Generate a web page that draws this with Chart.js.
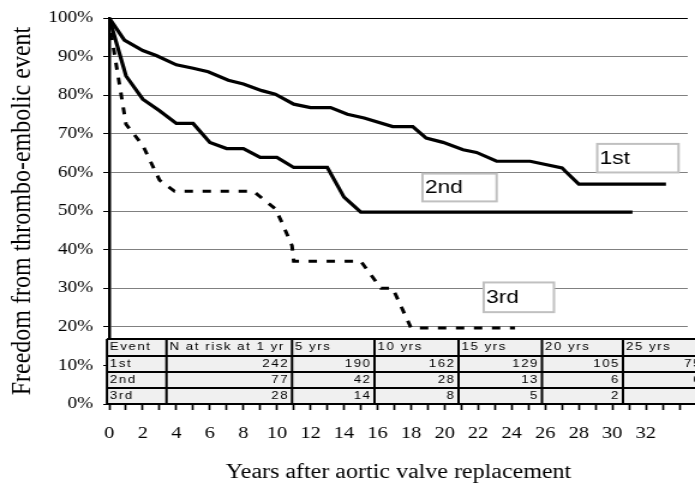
<!DOCTYPE html>
<html>
<head>
<meta charset="utf-8">
<script src="https://cdn.jsdelivr.net/npm/chart.js@4.4.1/dist/chart.umd.min.js"></script>
<style>
  html, body { margin: 0; padding: 0; background: #fff; }
  canvas { display: block; }
</style>
</head>
<body>
<!-- the original picture is stretched 1.2x horizontally: draw narrow, show wide -->
<canvas id="chart" width="579" height="487" style="width:695px;height:487px"></canvas>
<script>
// ── Data (years after replacement / freedom %) ───────────────────────────────
const firstYears    = [0, 0.9, 2, 2.8, 4, 5, 5.9, 7.1, 8, 9.1, 9.9, 11, 12, 13.2, 14.2, 15.2, 16.9, 18.1, 18.9, 19.9, 21.1, 21.9, 23.1, 25.1, 27, 27.2, 28, 33.2];
const firstFreedom  = [100, 94.3, 91.6, 90.3, 87.9, 87, 86.1, 83.9, 82.9, 81.2, 80.3, 77.7, 76.8, 76.8, 75.1, 74.1, 71.9, 71.9, 68.9, 67.8, 65.9, 65.2, 62.9, 62.9, 61.2, 60.3, 57, 57];

const secondYears   = [0, 1, 2, 3, 4, 5, 6, 7, 8, 9, 10, 11, 13, 14, 15, 31.2];
const secondFreedom = [100, 85, 79, 76, 72.7, 72.7, 67.8, 66.2, 66.2, 63.9, 63.9, 61.3, 61.3, 53.6, 49.7, 49.7];

const thirdYears    = [0, 0.15, 1, 2, 3, 3.9, 8.6, 9.9, 10.3, 10.9, 11, 15, 16.2, 16.9, 18, 24.2];
const thirdFreedom  = [100, 95, 72.5, 67, 58, 55.1, 55.1, 50.6, 47, 41, 37, 37, 30, 30, 19.7, 19.7];

const curveLabels   = ["1st", "2nd", "3rd"];

// ── Risk table ────────────────────────────────────────────────────────────────
const riskHeaders = ["Event", "N at risk at 1 yr", "5 yrs", "10 yrs", "15 yrs", "20 yrs", "25 yrs"];
const eventNames  = ["1st", "2nd", "3rd"];
const riskFirst   = [242, 190, 162, 129, 105, 75];
const riskSecond  = [77, 42, 28, 13, 6, 6];
const riskThird   = [28, 14, 8, 5, 2, null];

const toPoints = (xs, ys) => xs.map((x, i) => ({ x, y: ys[i] }));

// ── Layout of the overlay (canvas px / data units) ───────────────────────────
const TABLE_COLS = [89.1, 138.7, 243.3, 312.0, 382.0, 451.5, 519.0, 587.3];
const TABLE_ROWS = [339, 356, 372, 388, 404];
const LABEL_BOXES = [
    { x0: 29.1,  x1: 33.95, y0: 67.4, y1: 60.0 },
    { x0: 18.68, x1: 23.1,  y0: 59.7, y1: 52.5 },
    { x0: 22.33, x1: 26.52, y0: 31.5, y1: 23.8 },
];

const SANS  = "'Liberation Sans', Arial, sans-serif";
const SERIF = "'Liberation Serif', 'Times New Roman', serif";

Chart.defaults.font.family = SERIF;
Chart.defaults.color = "#000";

function seg(ctx, x0, y0, x1, y1) {
    ctx.beginPath();
    ctx.moveTo(x0, y0);
    ctx.lineTo(x1, y1);
    ctx.stroke();
}

// ── Overlay : risk table + curve labels ───────────────────────────────────────
const overlay = {
    id: 'overlay',
    afterDatasetsDraw(chart) {
        const { ctx, scales: { x, y } } = chart;
        const L = TABLE_COLS[0], R = TABLE_COLS[TABLE_COLS.length - 1];
        const T = TABLE_ROWS[0], B = TABLE_ROWS[TABLE_ROWS.length - 1];

        ctx.save();
        ctx.fillStyle = '#f0f0f0';
        ctx.fillRect(L, T, R - L, B - T);
        ctx.strokeStyle = '#000';
        ctx.lineWidth = 2;
        TABLE_ROWS.forEach(r => seg(ctx, L, r, R, r));
        TABLE_COLS.forEach(c => seg(ctx, c, T, c, B));

        ctx.font = `11px ${SANS}`;
        ctx.letterSpacing = '1.3px';
        ctx.fillStyle = '#000';
        ctx.textBaseline = 'middle';

        const mid = r => (TABLE_ROWS[r] + TABLE_ROWS[r + 1]) / 2 - 0.5;
        ctx.textAlign = 'left';
        riskHeaders.forEach((h, i) => ctx.fillText(h, TABLE_COLS[i] + 2.5, mid(0)));

        [riskFirst, riskSecond, riskThird].forEach((row, r) => {
            ctx.textAlign = 'left';
            ctx.fillText(eventNames[r], TABLE_COLS[0] + 2.5, mid(r + 1));
            ctx.textAlign = 'right';
            row.forEach((v, i) => {
                if (v !== null) ctx.fillText(String(v), TABLE_COLS[i + 2] - 2.5, mid(r + 1));
            });
        });

        // labels "1st" / "2nd" / "3rd"
        ctx.letterSpacing = '0px';
        ctx.font = `19px ${SANS}`;
        ctx.textAlign = 'left';
        LABEL_BOXES.forEach((b, i) => {
            const px0 = x.getPixelForValue(b.x0), px1 = x.getPixelForValue(b.x1);
            const py0 = y.getPixelForValue(b.y0), py1 = y.getPixelForValue(b.y1);
            ctx.fillStyle = '#fff';
            ctx.fillRect(px0, py0, px1 - px0, py1 - py0);
            ctx.strokeStyle = '#c0c0c0';
            ctx.lineWidth = 2;
            ctx.strokeRect(px0, py0, px1 - px0, py1 - py0);
            ctx.fillStyle = '#000';
            ctx.fillText(curveLabels[i], px0 + 2, (py0 + py1) / 2 + 0.5);
        });
        ctx.restore();
    },
};

// ── Chart ─────────────────────────────────────────────────────────────────────
const base = { borderColor: '#000', pointRadius: 0, tension: 0, fill: false };

new Chart(document.getElementById('chart'), {
    type: 'line',
    data: {
        datasets: [
            { ...base, label: curveLabels[0], data: toPoints(firstYears, firstFreedom),   borderWidth: 3.2 },
            { ...base, label: curveLabels[1], data: toPoints(secondYears, secondFreedom), borderWidth: 3.2 },
            { ...base, label: curveLabels[2], data: toPoints(thirdYears, thirdFreedom),   borderWidth: 3, borderDash: [7, 8] },
        ],
    },
    options: {
        responsive: false,
        devicePixelRatio: 1,
        animation: false,
        layout: { padding: { top: 17, right: 0, bottom: 0, left: 0 } },
        plugins: { legend: { display: false }, tooltip: { enabled: false } },
        scales: {
            x: {
                type: 'linear',
                min: 0,
                max: 34.5,
                afterFit: s => { s.height = 83; },
                ticks: {
                    stepSize: 1,
                    autoSkip: false,
                    maxRotation: 0,
                    includeBounds: false,
                    padding: 13,
                    font: { size: 17 },
                    color: '#000',
                    callback: v => (v % 2 === 0 && v <= 32) ? String(v) : '',
                },
                grid: { drawOnChartArea: false, drawTicks: true, tickLength: 6, tickColor: '#000', tickWidth: 1.7 },
                border: { display: true, color: '#000', width: 2 },
                title: {
                    display: true,
                    text: 'Years after aortic valve replacement',
                    font: { size: 20 },
                    color: '#000',
                    padding: { top: 0, bottom: 2 },
                },
            },
            y: {
                min: 0,
                max: 100,
                afterFit: s => { s.width = 91; },
                ticks: {
                    stepSize: 10,
                    padding: 8.5,
                    font: { size: 16 },
                    color: '#000',
                    callback: v => v + '%',
                },
                grid: {
                    color: c => (c.tick && c.tick.value === 100) ? '#000' : '#808080',
                    lineWidth: 1,
                    tickLength: 5,
                    tickColor: '#000',
                },
                border: { display: true, color: '#000', width: 2.5 },
                title: {
                    display: true,
                    text: 'Freedom from thrombo-embolic event',
                    font: { size: 24 },
                    color: '#000',
                    padding: { top: 4, bottom: 0 },
                },
            },
        },
    },
    plugins: [overlay],
});
</script>
</body>
</html>
